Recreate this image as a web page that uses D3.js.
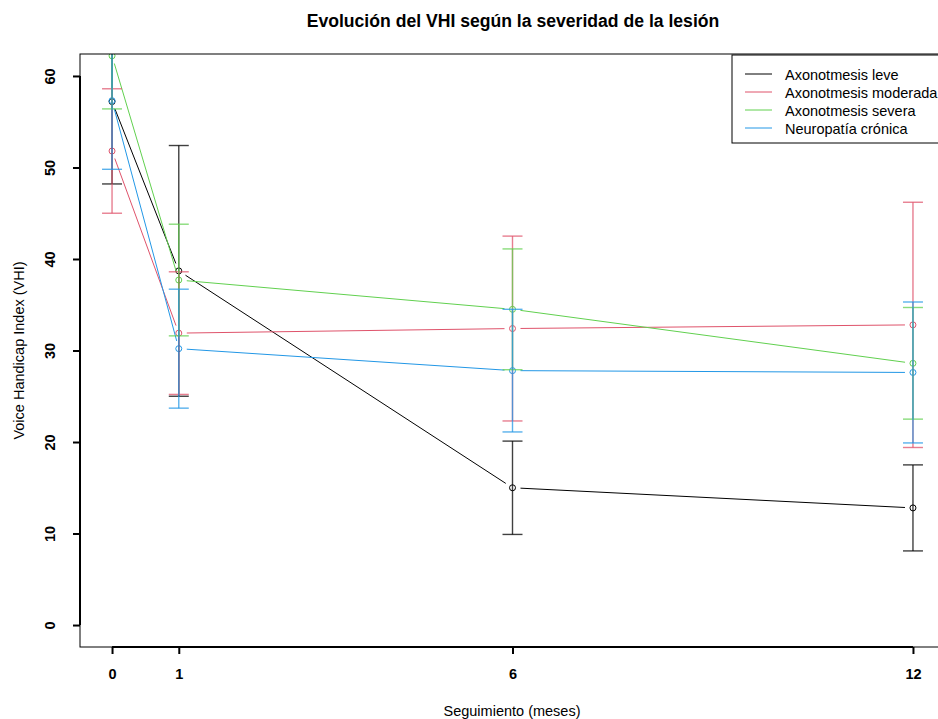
<!DOCTYPE html>
<html><head><meta charset="utf-8">
<script src="https://cdn.jsdelivr.net/npm/d3@7"></script>
<style>body{margin:0;background:#fff}svg{display:block;font-family:"Liberation Sans",Arial,sans-serif}</style>
</head><body><svg id="c" width="938" height="719"></svg>
<script>
const times = [0, 1, 6, 12];
const seriesNames = ["Axonotmesis leve", "Axonotmesis moderada", "Axonotmesis severa", "Neuropatía crónica"];
const seriesColors = ["#000000", "#DF536B", "#61D04F", "#2297E6"];
const meanLeve = [57.2, 38.7, 15.0, 12.8];
const meanModerada = [51.8, 31.9, 32.4, 32.8];
const meanSevera = [62.2, 37.7, 34.5, 28.6];
const meanCronica = [57.3, 30.2, 27.8, 27.6];
const errLeve = [9.0, 13.7, 5.1, 4.7];
const errModerada = [6.8, 6.7, 10.1, 13.4];
const errSevera = [5.8, 6.1, 6.6, 6.1];
const errCronica = [7.5, 6.5, 6.7, 7.7];
const yTicks = [0, 10, 20, 30, 40, 50, 60];
const title = "Evolución del VHI según la severidad de la lesión";
const xLabel = "Seguimiento (meses)";
const yLabel = "Voice Handicap Index (VHI)";

const means = [meanLeve, meanModerada, meanSevera, meanCronica];
const errs = [errLeve, errModerada, errSevera, errCronica];

const svg = d3.select("#c");
const L = 80, R = 945, T = 54, B = 647;
const FS = 14.5;
const x = d3.scaleLinear().domain([-0.48, 12.48]).range([L, R]);
const y = d3.scaleLinear().domain([-2.4, 62.4]).range([B, T]);

svg.append("defs").append("clipPath").attr("id", "clip")
  .append("rect").attr("x", L).attr("y", T).attr("width", R - L).attr("height", B - T);

const plot = svg.append("g").attr("clip-path", "url(#clip)");
const gap = 8;

means.forEach((m, si) => {
  const col = seriesColors[si];
  const pts = times.map((t, i) => [x(t), y(m[i])]);
  for (let i = 0; i < pts.length - 1; i++) {
    const [x1, y1] = pts[i], [x2, y2] = pts[i + 1];
    const dx = x2 - x1, dy = y2 - y1, len = Math.hypot(dx, dy);
    if (len <= 2 * gap) continue;
    const ux = dx / len, uy = dy / len;
    plot.append("line")
      .attr("x1", x1 + ux * gap).attr("y1", y1 + uy * gap)
      .attr("x2", x2 - ux * gap).attr("y2", y2 - uy * gap)
      .attr("stroke", col).attr("stroke-width", 1);
  }
  plot.selectAll(null).data(pts).enter().append("circle")
    .attr("cx", d => d[0]).attr("cy", d => d[1]).attr("r", 3)
    .attr("fill", "none").attr("stroke", col).attr("stroke-width", 1);
});

means.forEach((m, si) => {
  const col = seriesColors[si];
  const e = errs[si];
  times.forEach((t, i) => {
    const cx = x(t), lo = y(m[i] - e[i]), hi = y(m[i] + e[i]);
    const g = plot.append("g").attr("stroke", col).attr("stroke-width", 1.4).attr("stroke-opacity", 0.75);
    g.append("line").attr("x1", cx).attr("x2", cx).attr("y1", lo).attr("y2", hi);
    g.append("line").attr("x1", cx - 10).attr("x2", cx + 10).attr("y1", lo).attr("y2", lo);
    g.append("line").attr("x1", cx - 10).attr("x2", cx + 10).attr("y1", hi).attr("y2", hi);
  });
});

// box
svg.append("rect").attr("x", L).attr("y", T).attr("width", R - L).attr("height", B - T)
  .attr("fill", "none").attr("stroke", "#000").attr("stroke-width", 1);

// x axis
const xAxis = svg.append("g").attr("transform", `translate(0,${B})`)
  .call(d3.axisBottom(x).tickValues(times).tickSize(7).tickPadding(8).tickFormat(d3.format("d")));
xAxis.select(".domain").remove();
xAxis.append("line").attr("x1", x(times[0])).attr("x2", x(times[times.length - 1]))
  .attr("y1", 0).attr("y2", 0).attr("stroke", "#000").attr("stroke-width", 2);
xAxis.selectAll(".tick line").attr("stroke-width", 2);
xAxis.selectAll(".tick text").attr("y", 32).attr("dy", null)
  .attr("font-size", FS).attr("font-weight", "bold")
  .attr("font-family", "Liberation Sans, Arial, sans-serif").attr("fill", "#000");

// y axis
const yAxis = svg.append("g").attr("transform", `translate(${L},0)`)
  .call(d3.axisLeft(y).tickValues(yTicks).tickSize(7).tickFormat(d3.format("d")));
yAxis.select(".domain").remove();
yAxis.append("line").attr("x1", 0).attr("x2", 0)
  .attr("y1", y(yTicks[0])).attr("y2", y(yTicks[yTicks.length - 1]))
  .attr("stroke", "#000").attr("stroke-width", 2);
yAxis.selectAll(".tick line").attr("stroke-width", 2);
yAxis.selectAll(".tick text")
  .attr("x", null).attr("dy", null)
  .attr("transform", "translate(-25.5,0) rotate(-90)")
  .attr("text-anchor", "middle")
  .attr("font-size", FS).attr("font-weight", "bold")
  .attr("font-family", "Liberation Sans, Arial, sans-serif").attr("fill", "#000");

// title & labels
svg.append("text").attr("x", 513).attr("y", 27).attr("text-anchor", "middle")
  .attr("font-size", 17.6).attr("font-weight", "bold").text(title);
svg.append("text").attr("x", 512).attr("y", 716).attr("text-anchor", "middle")
  .attr("font-size", FS).text(xLabel);
svg.append("text").attr("transform", `translate(24,${(T + B) / 2}) rotate(-90)`)
  .attr("text-anchor", "middle").attr("font-size", FS).text(yLabel);

// legend
const lg = svg.append("g");
lg.append("rect").attr("x", 732).attr("y", 55).attr("width", 215).attr("height", 88)
  .attr("fill", "#fff").attr("stroke", "#000").attr("stroke-width", 1);
seriesNames.forEach((n, i) => {
  const yy = 74 + i * 18;
  lg.append("line").attr("x1", 745).attr("x2", 772).attr("y1", yy).attr("y2", yy)
    .attr("stroke", seriesColors[i]).attr("stroke-width", 1);
  lg.append("text").attr("x", 785).attr("y", yy + 5.5).attr("font-size", FS).text(n);
});
</script></body></html>
